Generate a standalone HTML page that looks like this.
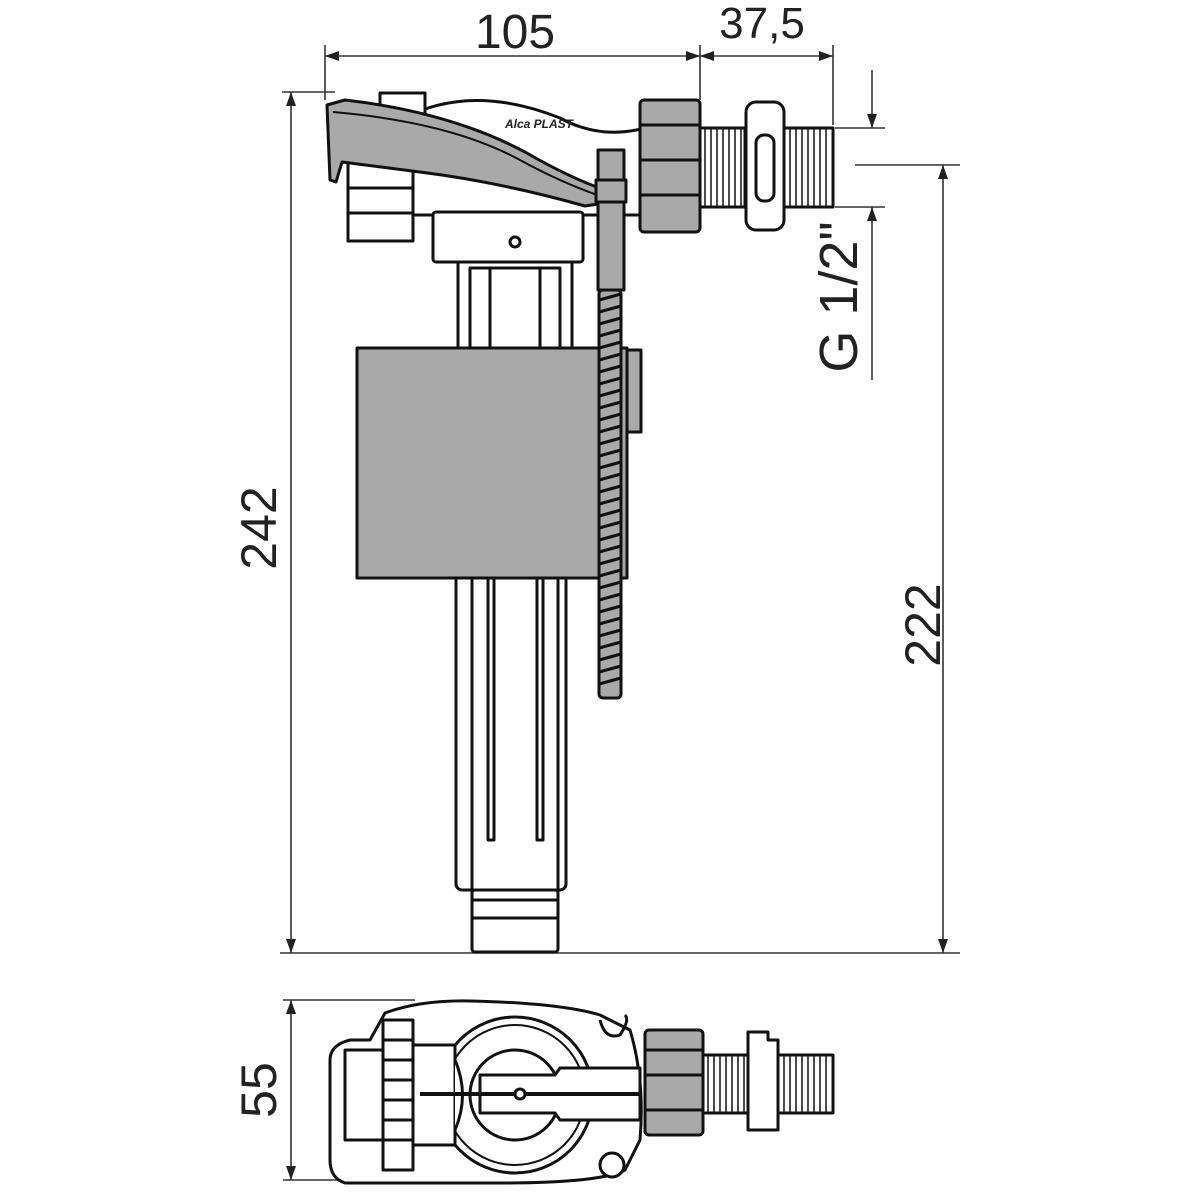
<!DOCTYPE html>
<html><head><meta charset="utf-8"><style>
html,body{margin:0;padding:0;background:#fff;width:1200px;height:1200px;overflow:hidden}
svg{display:block}
text{font-family:"Liberation Sans",sans-serif;fill:#222}
</style></head><body>
<svg width="1200" height="1200" viewBox="0 0 1200 1200" xmlns="http://www.w3.org/2000/svg">
<defs>
<marker id="a" markerWidth="14" markerHeight="10" refX="14" refY="5" orient="auto" markerUnits="userSpaceOnUse"><path d="M0,0 L14,5 L0,10 Z" fill="#222"/></marker>
<marker id="b" markerWidth="14" markerHeight="10" refX="0" refY="5" orient="auto" markerUnits="userSpaceOnUse"><path d="M14,0 L0,5 L14,10 Z" fill="#222"/></marker>
</defs>
<g stroke="#333" stroke-width="1.6" fill="none">
<line x1="325" y1="45" x2="325" y2="100"/><line x1="700" y1="45" x2="700" y2="100"/><line x1="833" y1="45" x2="833" y2="125"/>
<line x1="325" y1="56" x2="700" y2="56" marker-start="url(#b)" marker-end="url(#a)"/>
<line x1="700" y1="56" x2="833" y2="56" marker-start="url(#b)" marker-end="url(#a)"/>
<line x1="282" y1="92" x2="335" y2="92"/>
<line x1="280" y1="953" x2="960" y2="953"/>
<line x1="291" y1="92" x2="291" y2="953" marker-start="url(#b)" marker-end="url(#a)"/>
<line x1="855" y1="165" x2="960" y2="165"/>
<line x1="943" y1="165" x2="943" y2="953" marker-start="url(#b)" marker-end="url(#a)"/>
<line x1="835" y1="128" x2="885" y2="128"/><line x1="835" y1="207" x2="885" y2="207"/>
<line x1="872" y1="70" x2="872" y2="128" marker-end="url(#a)"/>
<line x1="872" y1="380" x2="872" y2="207" marker-end="url(#a)"/>
<line x1="283" y1="1000" x2="415" y2="1000"/><line x1="283" y1="1180" x2="420" y2="1180"/>
<line x1="291" y1="1000" x2="291" y2="1180" marker-start="url(#b)" marker-end="url(#a)"/>
</g>
<text x="515" y="48" font-size="48" text-anchor="middle">105</text>
<text x="762" y="38" font-size="44" text-anchor="middle">37,5</text>
<text transform="translate(276,528) rotate(-90)" font-size="50" text-anchor="middle">242</text>
<text transform="translate(940,625) rotate(-90)" font-size="50" text-anchor="middle">222</text>
<text transform="translate(857,297) rotate(-90)" font-size="54" text-anchor="middle">G 1/2"</text>
<text transform="translate(276,1090) rotate(-90)" font-size="50" text-anchor="middle">55</text>

<g stroke="#111" stroke-width="3" fill="#fff" stroke-linejoin="round">
<rect x="456" y="570" width="110" height="320" rx="6"/>
<line x1="472" y1="575" x2="472" y2="890"/><line x1="558" y1="575" x2="558" y2="890"/>
<rect x="488" y="575" width="6" height="265"/><rect x="537" y="575" width="6" height="265"/>
<rect x="472" y="890" width="86" height="62" rx="3"/>
<line x1="472" y1="900" x2="558" y2="900"/><line x1="472" y1="918" x2="558" y2="918"/>
<path d="M458,262 L458,350 L572,350 L572,262"/>
<rect x="470" y="268" width="90" height="82"/>
<line x1="490" y1="268" x2="490" y2="350"/><line x1="540" y1="268" x2="540" y2="350"/>
<rect x="357" y="348" width="270" height="230" fill="#a9a9a9"/>
<rect x="627" y="350" width="14" height="82" fill="#a9a9a9"/>
<path d="M400,120 Q470,82 560,118 Q600,140 645,128 L645,215 L400,215 Z"/>
<rect x="433" y="212" width="150" height="50" rx="3"/>
<circle cx="515" cy="242" r="5"/>
<rect x="348" y="163" width="65" height="78"/>
<line x1="348" y1="188" x2="413" y2="188"/><line x1="348" y1="213" x2="413" y2="213"/>
<rect x="380" y="93" width="45" height="30"/>
<path d="M327,105 L345,100 Q450,112 525,152 Q570,178 605,190 L605,203 L585,206 Q500,182 420,172 L342,162 L336,182 L330,180 Z" fill="#a9a9a9"/>
<path d="M333,112 Q450,122 520,160 Q560,182 600,196" fill="none" stroke-width="2"/>
<text x="505" y="128" font-size="12" font-weight="bold" fill="#111" stroke="none" font-style="italic">Alca PLAST</text>
<rect x="598" y="150" width="26" height="140" fill="#a9a9a9"/>
<rect x="596" y="180" width="30" height="22" fill="#a9a9a9"/>
<rect x="599" y="290" width="22" height="408" rx="4" fill="#a9a9a9"/>
<rect x="640" y="100" width="60" height="132" rx="4" fill="#a9a9a9"/>
<line x1="640" y1="125" x2="700" y2="125"/><line x1="640" y1="160" x2="700" y2="160"/><line x1="640" y1="195" x2="700" y2="195"/>
<rect x="700" y="128" width="45" height="79"/>
<rect x="746" y="102" width="38" height="128" rx="10"/>
<rect x="756" y="135" width="18" height="66" rx="8"/>
<rect x="784" y="128" width="49" height="79"/>
</g>
<g stroke="#111" stroke-width="1.5">
<path d="M705,128V207M711,128V207M717,128V207M723,128V207M729,128V207M735,128V207M741,128V207M790,128V207M796,128V207M802,128V207M808,128V207M814,128V207M820,128V207M826,128V207"/>
<path d="M599,300l22,-6M599,312l22,-6M599,324l22,-6M599,336l22,-6M599,348l22,-6M599,360l22,-6M599,372l22,-6M599,384l22,-6M599,396l22,-6M599,408l22,-6M599,420l22,-6M599,432l22,-6M599,444l22,-6M599,456l22,-6M599,468l22,-6M599,480l22,-6M599,492l22,-6M599,504l22,-6M599,516l22,-6M599,528l22,-6M599,540l22,-6M599,552l22,-6M599,564l22,-6M599,576l22,-6M599,588l22,-6M599,600l22,-6M599,612l22,-6M599,624l22,-6M599,636l22,-6M599,648l22,-6M599,660l22,-6M599,672l22,-6M599,684l22,-6" stroke-width="3"/>
</g>

<g stroke="#111" stroke-width="3" fill="#fff" stroke-linejoin="round">
<path d="M385,1013 Q420,1000 470,1001 Q560,1003 600,1015 L630,1030 Q645,1080 640,1140 L625,1170 Q600,1183 500,1183 L345,1183 Q330,1178 330,1160 L330,1060 Q330,1045 350,1040 L370,1040 Z"/>
<circle cx="515" cy="1095" r="78"/>
<circle cx="515" cy="1095" r="70" stroke-width="2"/>
<circle cx="515" cy="1095" r="45"/>
<rect x="345" y="1050" width="40" height="90"/>
<rect x="383" y="1020" width="30" height="150"/>
<path d="M383,1040h30M383,1060h30M383,1080h30M383,1100h30M383,1120h30M383,1140h30"/>
<rect x="413" y="1045" width="42" height="100"/>
<path d="M455,1060 Q470,1095 455,1130"/>
<path d="M480,1075 L555,1075 L560,1068 L640,1068 L640,1120 L560,1120 L555,1113 L480,1113 Z"/>
<line x1="420" y1="1094" x2="640" y2="1094" stroke-width="4"/>
<circle cx="520" cy="1094" r="5"/>
<path d="M600,1020 Q605,1040 620,1035 Q630,1020 625,1015" fill="none"/>
<circle cx="612" cy="1165" r="12"/>
<rect x="645" y="1030" width="58" height="105" rx="4" fill="#a9a9a9"/>
<path d="M645,1050h58M645,1075h58M645,1110h58"/>
<rect x="703" y="1055" width="45" height="58"/>
<path d="M748,1032 L768,1032 L768,1040 L778,1040 L778,1130 L748,1130 Z"/>
<rect x="778" y="1055" width="55" height="58"/>
</g>
<g stroke="#111" stroke-width="1.5">
<path d="M708,1055V1113M714,1055V1113M720,1055V1113M726,1055V1113M732,1055V1113M738,1055V1113M744,1055V1113M784,1055V1113M790,1055V1113M796,1055V1113M802,1055V1113M808,1055V1113M814,1055V1113M820,1055V1113M826,1055V1113"/>
</g>
</svg>
</body></html>
